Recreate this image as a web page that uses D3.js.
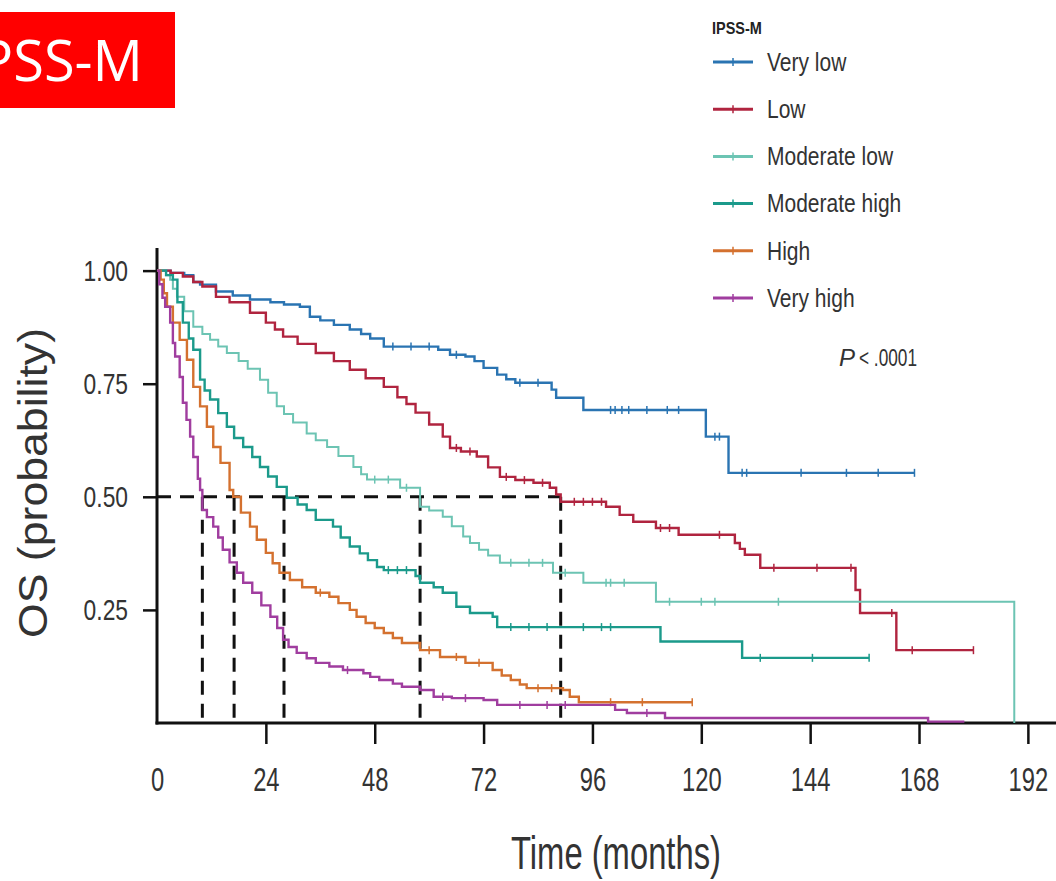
<!DOCTYPE html>
<html>
<head>
<meta charset="utf-8">
<script src="https://cdn.jsdelivr.net/npm/d3@7"></script>
<style>
    body { margin: 0; background: #fff; }
    svg { display: block; font-family: "Liberation Sans", Arial, sans-serif; }
</style>
</head>
<body>
<div id="chart"></div>
<script>
// legend labels and colours
const groups = ["Very low", "Low", "Moderate low", "Moderate high", "High", "Very high"];
const colors = ["#2a74b2", "#b0243f", "#6cc4b3", "#1b9a8b", "#d4712f", "#a03d9f"];

// Kaplan-Meier steps: [months, survival]
const veryLow = [[0,1],[3,0.995],[6,0.99],[8,0.975],[9.5,0.969],[13,0.954],[16.7,0.945],[20.5,0.936],[25,0.93],[28,0.925],[31.5,0.92],[33.7,0.898],[36,0.89],[39,0.88],[42.5,0.87],[45,0.86],[47,0.85],[50,0.832],[62,0.825],[64.6,0.814],[68,0.81],[70,0.8],[72,0.785],[75,0.77],[77,0.76],[79,0.752],[87,0.737],[88,0.719],[94,0.692],[121,0.633],[126,0.553],[167,0.553]];
const low = [[0,1],[3,0.995],[5.7,0.987],[8,0.975],[10,0.965],[13,0.942],[16,0.93],[20.5,0.907],[24,0.885],[26,0.87],[27.8,0.854],[31,0.838],[35,0.818],[39,0.8],[42.5,0.781],[46,0.762],[50,0.743],[53,0.72],[55,0.705],[57,0.686],[60,0.66],[63,0.633],[64.6,0.608],[67,0.6],[70.5,0.589],[73,0.565],[75.6,0.544],[79,0.537],[83,0.531],[86.6,0.52],[88,0.505],[89,0.489],[99,0.478],[102,0.46],[105,0.445],[110,0.431],[115,0.416],[127.4,0.398],[128.5,0.385],[129.6,0.372],[133,0.343],[154,0.294],[155,0.243],[163,0.161],[180,0.161]];
const modLow = [[0,1],[2,0.99],[2.9,0.98],[3.5,0.96],[4.4,0.942],[6,0.91],[8,0.876],[10,0.86],[11.7,0.847],[13.5,0.832],[15.4,0.818],[18,0.8],[20,0.783],[22.7,0.759],[24.5,0.73],[26.4,0.7],[28,0.683],[30,0.664],[33,0.64],[35,0.625],[37.5,0.61],[40,0.59],[43.3,0.566],[45,0.55],[46.3,0.538],[53.6,0.52],[58,0.478],[60,0.47],[63,0.456],[65,0.435],[67.5,0.412],[69,0.398],[71,0.383],[73,0.37],[75.6,0.354],[87.3,0.332],[94,0.31],[110,0.268],[189,0],[189,0]];
const modHigh = [[0,1],[2,0.99],[3.5,0.98],[4.5,0.93],[5.7,0.885],[7,0.85],[8,0.825],[9.5,0.759],[10.5,0.735],[11.7,0.715],[13.5,0.685],[15.4,0.655],[17,0.63],[19,0.61],[21,0.588],[22.7,0.566],[24.5,0.545],[26.4,0.522],[28.6,0.498],[31,0.483],[33,0.471],[35,0.449],[38.8,0.434],[40.5,0.41],[42.5,0.39],[44.7,0.375],[46.5,0.36],[48.5,0.345],[50,0.338],[57,0.325],[58,0.31],[61,0.3],[63,0.288],[66,0.257],[69,0.243],[74,0.235],[75,0.212],[111,0.18],[129,0.144],[157,0.144]];
const high = [[0,1],[0.8,0.98],[1.5,0.95],[2.2,0.92],[3.5,0.885],[5,0.847],[6.6,0.803],[8,0.743],[9.5,0.7],[11,0.655],[12.4,0.61],[14,0.575],[16,0.515],[16.8,0.5],[18.5,0.465],[20.5,0.434],[22,0.405],[24,0.376],[25.5,0.353],[27,0.332],[29.3,0.316],[32,0.3],[35,0.288],[38,0.279],[40,0.265],[42.5,0.25],[44,0.235],[46,0.221],[48,0.21],[50,0.199],[52,0.188],[54,0.177],[58,0.161],[62.4,0.146],[68,0.133],[74,0.117],[76,0.105],[78,0.095],[80,0.085],[81.5,0.077],[89.5,0.073],[91,0.058],[93,0.046],[118,0.046]];
const veryHigh = [[0,1],[0.5,0.97],[1.2,0.94],[1.8,0.92],[2.9,0.885],[3.5,0.84],[4,0.81],[5,0.765],[5.7,0.708],[6.5,0.67],[7.3,0.633],[8,0.588],[9,0.54],[9.5,0.515],[10,0.471],[11,0.455],[12.4,0.434],[13.5,0.41],[14.5,0.383],[16,0.355],[17.6,0.332],[19,0.31],[21,0.288],[23,0.26],[25,0.235],[26.5,0.21],[27.8,0.184],[29,0.168],[30.8,0.155],[33,0.143],[35,0.133],[38,0.125],[41,0.117],[45.5,0.11],[47,0.102],[49,0.095],[52,0.087],[54,0.08],[58,0.073],[61,0.058],[65,0.055],[72,0.051],[75,0.04],[101,0.029],[103.6,0.022],[112,0.011],[170,0.003],[178,0.003]];
const curves = [veryLow, low, modLow, modHigh, high, veryHigh];

// censored observations (months)
const censored = [
    [52,56,60,66,80,84,100,101,102.5,104,108,112.5,115,123,124,129,130,142,152,159,167],
    [66,69,77,81,85,92,94,96,98,111,113,124,136,145.5,153,162,166.5,180],
    [48,51,55,78,82,85,90,99,100,103,113,120,123,137],
    [51,53,55,78,82,86,94,98,100,133,144.5,157],
    [36,60,66,71,84,87,100,107,118],
    [42,63,68,80,86,90,108]
];

// median survival times shown by the dashed guides
const medians = [10, 17, 28, 58, 89];

const xTicks = [0, 24, 48, 72, 96, 120, 144, 168, 192];
const yTicks = [0.25, 0.50, 0.75, 1.00];

const width = 1056;
const height = 881;

const svg = d3.select("#chart")
    .append("svg")
    .attr("width", width)
    .attr("height", height);

const xScale = d3.scaleLinear().domain([0, 198.2]).range([157, 1056]);
const yScale = d3.scaleLinear().domain([0, 1.05]).range([723, 248]);

// squeeze text to look like the condensed typeface of the figure
function condense(sel, k) {
    sel.each(function() {
        const w = this.getComputedTextLength();
        d3.select(this).attr("textLength", w * k).attr("lengthAdjust", "spacingAndGlyphs");
    });
}

// title box
svg.append("rect")
    .attr("x", 0).attr("y", 12)
    .attr("width", 175).attr("height", 96)
    .attr("fill", "#ff0000");

svg.append("text")
    .attr("x", 143).attr("y", 81)
    .attr("text-anchor", "end")
    .attr("fill", "#fff")
    .style("font-family", "'Open Sans', Lato, sans-serif")
    .style("font-size", "56px")
    .text("IPSS-M");

// axes
const yAxis = svg.append("g")
    .attr("transform", `translate(${xScale(0)},0)`)
    .call(d3.axisLeft(yScale).tickValues(yTicks).tickFormat(d3.format(".2f")).tickSize(14).tickPadding(15));
yAxis.select(".domain").remove();
yAxis.selectAll("line").attr("stroke", "#111").attr("stroke-width", 2.5);
yAxis.selectAll("text").attr("fill", "#333").style("font-size", "30px").call(condense, 0.76);

const xAxis = svg.append("g")
    .attr("transform", `translate(0,${yScale(0)})`)
    .call(d3.axisBottom(xScale).tickValues(xTicks).tickSize(21).tickPadding(24));
xAxis.select(".domain").remove();
xAxis.selectAll(".tick line").attr("stroke", "#111").attr("stroke-width", 2.5)
    .filter(d => d === 0).remove();
xAxis.selectAll("text").attr("fill", "#333").style("font-size", "33px").call(condense, 0.72);

svg.append("line")
    .attr("x1", xScale(0)).attr("x2", xScale(0))
    .attr("y1", yScale(1.05)).attr("y2", yScale(0) + 1.5)
    .attr("stroke", "#111").attr("stroke-width", 3);

svg.append("line")
    .attr("x1", xScale(0) - 1.5).attr("x2", width)
    .attr("y1", yScale(0)).attr("y2", yScale(0))
    .attr("stroke", "#111").attr("stroke-width", 3);

// median guides
const dash = "14,9";
svg.append("line")
    .attr("x1", xScale(0)).attr("x2", xScale(d3.max(medians)))
    .attr("y1", yScale(0.5)).attr("y2", yScale(0.5))
    .attr("stroke", "#111").attr("stroke-width", 3)
    .attr("stroke-dasharray", dash);

svg.selectAll(".median")
    .data(medians)
    .enter()
    .append("line")
        .attr("class", "median")
        .attr("x1", d => xScale(d)).attr("x2", d => xScale(d))
        .attr("y1", yScale(0.5)).attr("y2", yScale(0))
        .attr("stroke", "#111").attr("stroke-width", 3)
        .attr("stroke-dasharray", dash);

// survival curves
const line = d3.line()
    .x(d => xScale(d[0]))
    .y(d => yScale(d[1]))
    .curve(d3.curveStepAfter);

// survival value at a time, for placing censor marks
function survAt(curve, t) {
    let s = 1;
    curve.forEach(function(d) { if (d[0] <= t) s = d[1]; });
    return s;
}

curves.forEach(function(c, i) {
    svg.append("path")
        .attr("d", line(c))
        .attr("fill", "none")
        .attr("stroke", colors[i])
        .attr("stroke-width", i === 2 ? 2 : 2.4);

    svg.selectAll(".cens" + i)
        .data(censored[i])
        .enter()
        .append("line")
            .attr("x1", d => xScale(d)).attr("x2", d => xScale(d))
            .attr("y1", d => yScale(survAt(c, d)) - 4)
            .attr("y2", d => yScale(survAt(c, d)) + 4)
            .attr("stroke", colors[i])
            .attr("stroke-width", 1.5);
});

// axis titles
svg.append("text")
    .attr("transform", "translate(47,483) rotate(-90)")
    .attr("text-anchor", "middle")
    .attr("fill", "#333")
    .style("font-size", "40px")
    .text("OS (probability)")
    .attr("textLength", 310)
    .attr("lengthAdjust", "spacingAndGlyphs");

svg.append("text")
    .attr("x", 616).attr("y", 869)
    .attr("text-anchor", "middle")
    .attr("fill", "#333")
    .style("font-size", "46px")
    .text("Time (months)")
    .attr("textLength", 210)
    .attr("lengthAdjust", "spacingAndGlyphs");

// p value
svg.append("text")
    .attr("x", 839).attr("y", 366)
    .attr("fill", "#333")
    .style("font-size", "24px")
    .style("font-style", "italic")
    .text("P");

svg.append("text")
    .attr("x", 859).attr("y", 366)
    .attr("fill", "#333")
    .style("font-size", "24px")
    .text("< .0001")
    .attr("textLength", 58)
    .attr("lengthAdjust", "spacingAndGlyphs");

// legend
const legend = svg.append("g");

legend.append("text")
    .attr("x", 712).attr("y", 34)
    .attr("fill", "#222")
    .style("font-size", "17px")
    .style("font-weight", "bold")
    .text("IPSS-M")
    .call(condense, 0.85);

groups.forEach(function(d, i) {
    const y = 62 + i * 47.2;

    legend.append("line")
        .attr("x1", 713).attr("x2", 753)
        .attr("y1", y).attr("y2", y)
        .attr("stroke", colors[i])
        .attr("stroke-width", 3);

    legend.append("line")
        .attr("x1", 733).attr("x2", 733)
        .attr("y1", y - 4).attr("y2", y + 4)
        .attr("stroke", colors[i])
        .attr("stroke-width", 1.5);

    legend.append("text")
        .attr("x", 767).attr("y", y)
        .attr("dy", "0.35em")
        .attr("fill", "#333")
        .style("font-size", "25px")
        .text(d)
        .call(condense, 0.84);
});
</script>
</body>
</html>
